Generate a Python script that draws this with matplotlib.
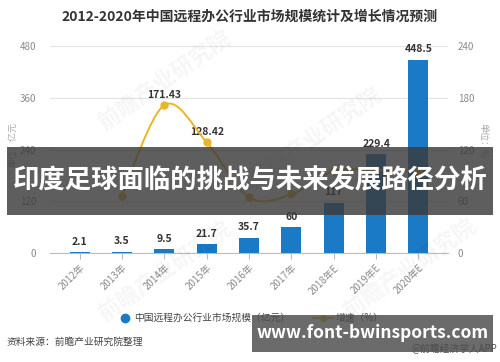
import numpy as np
import matplotlib.pyplot as plt
from matplotlib.path import Path
from matplotlib.patches import PathPatch, Rectangle

plt.rcParams['font.family'] = ['Noto Sans CJK SC', 'DejaVu Sans']

YEARS = ['2012年', '2013年', '2014年', '2015年', '2016年', '2017年', '2018年E', '2019年E', '2020年E']
MARKET = [2.1, 3.5, 9.5, 21.7, 35.7, 60, 117, 229.4, 448.5]
# growth (%) from 2013 on
GROWTH = [66.67, 171.43, 128.42, 64.52, 68.07, 95.0, 96.07, 95.51]
GROWTH_LABELS = {1: '171.43', 2: '128.42'}

BAR_COLOR = '#1b7ac6'
LINE_COLOR = '#e9b52a'
GREY = '#8a8a8a'


def smooth_path(xs, ys):
    # catmull-rom -> cubic bezier, drawn as a path
    pts = list(zip(xs, ys))
    verts = [pts[0]]
    codes = [Path.MOVETO]
    for i in range(len(pts) - 1):
        p0 = pts[i - 1] if i > 0 else pts[i]
        p1 = pts[i]
        p2 = pts[i + 1]
        p3 = pts[i + 2] if i + 2 < len(pts) else pts[i + 1]
        c1 = (p1[0] + (p2[0] - p0[0]) / 6, p1[1] + (p2[1] - p0[1]) / 6)
        c2 = (p2[0] - (p3[0] - p1[0]) / 6, p2[1] - (p3[1] - p1[1]) / 6)
        verts += [c1, c2, p2]
        codes += [Path.CURVE4] * 3
    return Path(verts, codes)


fig = plt.figure(figsize=(5, 3.62), dpi=100)
ax = fig.add_axes([0.10, 0.301, 0.796, 0.572])
ax2 = ax.twinx()

x = np.arange(len(YEARS))
ax.bar(x, MARKET, width=0.47, color=BAR_COLOR, zorder=3)
for xi, v in zip(x, MARKET):
    ax.text(xi, v + 12, f'{v:g}', ha='center', va='bottom', fontsize=7.5,
            fontweight='bold', color='#333333', zorder=5)

ax.set_ylim(0, 480)
ax.set_yticks([0, 120, 240, 360, 480])
ax.set_xlim(-0.7, 8.7)
ax.set_xticks(x)
ax.set_xticklabels(YEARS, rotation=45, ha='right', rotation_mode='anchor',
                   fontsize=7, color=GREY)
ax.tick_params(axis='y', length=0, labelsize=7, labelcolor=GREY, pad=10)
ax.tick_params(axis='x', length=4, color='#bbbbbb', pad=3)
ax.grid(axis='y', color='#e3e3e3', linewidth=0.8, zorder=0)
for s in ['top', 'right', 'left']:
    ax.spines[s].set_visible(False)
ax.spines['bottom'].set_color('#bbbbbb')

gx = x[1:]
ax2.add_patch(PathPatch(smooth_path(gx, GROWTH), facecolor='none',
                        edgecolor=LINE_COLOR, linewidth=1.4, zorder=4))
ax2.plot(gx, GROWTH, 'o', color=LINE_COLOR, markersize=5, zorder=5)
for i, lab in GROWTH_LABELS.items():
    ax2.text(gx[i], GROWTH[i] + 6, lab, ha='center', va='bottom', fontsize=7.5,
             fontweight='bold', color='#333333')
ax2.set_ylim(0, 240)
ax2.set_yticks([0, 60, 120, 180, 240])
ax2.tick_params(axis='y', length=0, labelsize=7, labelcolor=GREY, pad=7)
for s in ['top', 'right', 'left', 'bottom']:
    ax2.spines[s].set_visible(False)

fig.text(0.5, 0.955, '2012-2020年中国远程办公行业市场规模统计及增长情况预测',
         ha='center', va='center', fontsize=10, fontweight='bold', color='#333333')
fig.text(0.026, 0.60, '单位：亿元', rotation=90, ha='center', va='center',
         fontsize=6.5, color='#aaaaaa')
fig.text(0.966, 0.61, '单位：%', rotation=270, ha='center', va='center',
         fontsize=6.5, color='#aaaaaa')

# legend
fig.lines.append(plt.Line2D([0.249], [0.122], marker='o', color=BAR_COLOR,
                            markersize=6, transform=fig.transFigure))
fig.text(0.269, 0.122, '中国远程办公行业市场规模（亿元）', va='center', fontsize=7,
         color='#444444')
fig.lines.append(plt.Line2D([0.625, 0.665], [0.122, 0.122], color=LINE_COLOR,
                            linewidth=1.5, transform=fig.transFigure))
fig.lines.append(plt.Line2D([0.645], [0.122], marker='o', color=LINE_COLOR,
                            markersize=4, transform=fig.transFigure))
fig.text(0.672, 0.122, '增速（%）', va='center', fontsize=7, color='#444444')

fig.text(0.014, 0.055, '资料来源：前瞻产业研究院整理', va='center', fontsize=7,
         color='#444444')
fig.text(0.995, 0.035, '@前瞻经济学人APP', ha='right', va='center', fontsize=7,
         color='#555555')

# faint watermarks
for wx, wy in [(0.33, 0.78), (0.63, 0.62), (0.33, 0.25), (0.82, 0.26)]:
    fig.text(wx, wy, '前瞻产业研究院', rotation=35, ha='center', va='center',
             fontsize=16, fontweight='bold', color='#000000', alpha=0.04)

# overlay banners
fig.patches.append(Rectangle((0.014, 0.406), 0.972, 0.188, transform=fig.transFigure,
                             facecolor='#3a3a3a', alpha=0.82, zorder=10))
fig.text(0.5, 0.5, '印度足球面临的挑战与未来发展路径分析', ha='center', va='center',
         fontsize=19, fontweight='bold', color='white', zorder=11)
fig.patches.append(Rectangle((0.504, 0.028), 0.482, 0.102, transform=fig.transFigure,
                             facecolor='#4a4a4a', alpha=0.82, zorder=10))
fig.text(0.745, 0.079, 'www.font-bwinsports.com', ha='center', va='center',
         fontsize=12.5, fontweight='bold', color='white', zorder=11)

fig.savefig('out.png', dpi=100)
